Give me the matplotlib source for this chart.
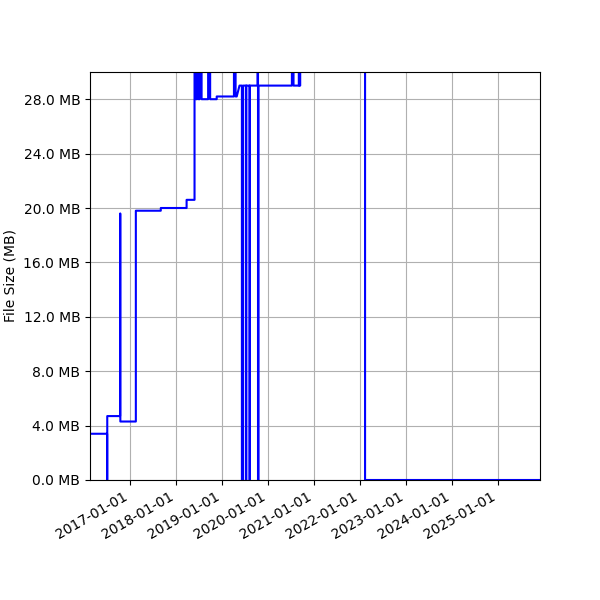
import pandas as pd
import matplotlib
matplotlib.use("Agg")
import matplotlib.pyplot as plt
import matplotlib.dates as mdates
from matplotlib.ticker import FuncFormatter, MultipleLocator

## file size history (MB)
dates = [
    "2016-02-17", "2016-07-02", "2016-07-02", "2016-07-03", "2016-07-03",
    "2016-10-13", "2016-10-14", "2016-10-15",
    "2017-02-15", "2017-02-15",
    "2017-09-01", "2017-09-01",
    "2018-03-25", "2018-03-25",
    "2018-05-27", "2018-05-27", "2018-06-08", "2018-06-08", "2018-06-16", "2018-06-16",
    "2018-06-28", "2018-06-28", "2018-07-06", "2018-07-06", "2018-07-22", "2018-07-22",
    "2018-09-12", "2018-09-12", "2018-09-28", "2018-09-28",
    "2018-11-19", "2018-11-19",
    "2019-04-05", "2019-04-05", "2019-04-18", "2019-04-18",
    "2019-04-27", "2019-05-19",
    "2019-06-07", "2019-06-07", "2019-06-17", "2019-06-17",
    "2019-07-10", "2019-07-10", "2019-07-12", "2019-07-12",
    "2019-08-07", "2019-08-07", "2019-08-09", "2019-08-09",
    "2019-10-09", "2019-10-09", "2019-10-13", "2019-10-13", "2019-10-17", "2019-10-17",
    "2020-07-08", "2020-07-08", "2020-07-21", "2020-07-21",
    "2020-09-01", "2020-09-01", "2020-09-06", "2020-09-06", "2020-09-12", "2020-09-12",
    "2022-02-09", "2022-02-09",
    "2025-11-29",
]
size_mb = [
    3.4, 3.4, 0.0, 0.0, 4.7,
    4.7, 19.6, 4.3,
    4.3, 19.8,
    19.8, 20.0,
    20.0, 20.6,
    20.6, 31.5, 31.5, 28.0, 28.0, 31.5,
    31.5, 28.0, 28.0, 31.5, 31.5, 28.0,
    28.0, 31.5, 31.5, 28.0,
    28.0, 28.2,
    28.2, 31.5, 31.5, 28.2,
    28.2, 29.0,
    29.0, 0.0, 0.0, 29.0,
    29.0, 0.0, 0.0, 29.0,
    29.0, 0.0, 0.0, 29.0,
    29.0, 31.5, 31.5, 0.0, 0.0, 29.0,
    29.0, 31.5, 31.5, 29.0,
    29.0, 31.5, 31.5, 29.0, 29.0, 31.5,
    31.5, 0.0,
    0.0,
]

x = pd.to_datetime(dates)

fig, ax = plt.subplots(figsize=(6, 6), dpi=100)
ax.plot(x, size_mb, color="blue")

ax.set_xlim(x[0], x[-1])
ax.set_ylim(0, 30)
ax.yaxis.set_major_locator(MultipleLocator(4))
ax.yaxis.set_major_formatter(FuncFormatter(lambda v, p: "%.1f MB" % v))
ax.xaxis.set_major_locator(mdates.YearLocator())
ax.xaxis.set_major_formatter(mdates.DateFormatter("%Y-%m-%d"))
ax.set_ylabel("File Size (MB)")
ax.grid(True)

fig.autofmt_xdate()
fig.subplots_adjust(left=0.15)
fig.savefig("out.png")
